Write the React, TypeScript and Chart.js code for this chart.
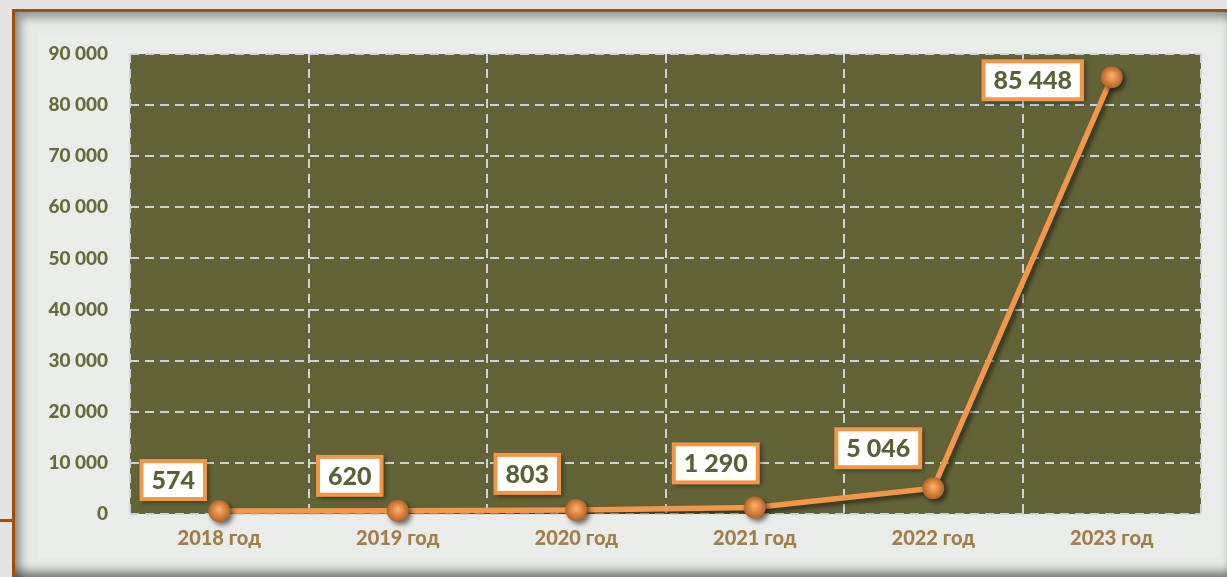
import React, { useEffect, useRef } from "react";
import { Chart, registerables } from "chart.js";

Chart.register(...registerables);

const categories = ["2018 год", "2019 год", "2020 год", "2021 год", "2022 год", "2023 год"];
const values = [574, 620, 803, 1290, 5046, 85448];
const yTicks = [0, 10000, 20000, 30000, 40000, 50000, 60000, 70000, 80000, 90000];

const ORANGE = "#f2964a";
const PLOT_BG = "#626438";
const GRID = "#ccd3dc";
const FONT = "Lato, 'Open Sans', sans-serif";

const fmt = (v: number) => String(Math.round(v)).replace(/\B(?=(\d{3})+(?!\d))/g, " ");

// label box centre offsets from each point (layout only)
const labelOffsets: [number, number][] = [
  [-46, -31],
  [-48, -35],
  [-49, -36],
  [-39, -44],
  [-55, -40],
  [-79, 3],
];

const plotBg = {
  id: "plotBg",
  beforeDraw(chart: any) {
    const { ctx, chartArea } = chart;
    ctx.save();
    ctx.fillStyle = PLOT_BG;
    ctx.fillRect(chartArea.left, chartArea.top, chartArea.right - chartArea.left, chartArea.bottom - chartArea.top);
    ctx.restore();
  },
};

const decor = {
  id: "decor",
  beforeDatasetsDraw(chart: any) {
    const ctx = chart.ctx;
    ctx.save();
    ctx.shadowColor = "rgba(0,0,0,0.55)";
    ctx.shadowBlur = 5;
    ctx.shadowOffsetX = 3;
    ctx.shadowOffsetY = 3;
  },
  afterDatasetsDraw(chart: any) {
    const ctx = chart.ctx;
    ctx.restore();
    const meta = chart.getDatasetMeta(0);
    const pts = meta.data;
    // markers
    pts.forEach((p: any) => {
      const x = p.x, y = p.y, r = 11;
      ctx.save();
      ctx.shadowColor = "rgba(0,0,0,0.55)";
      ctx.shadowBlur = 5;
      ctx.shadowOffsetX = 3;
      ctx.shadowOffsetY = 3;
      const g = ctx.createRadialGradient(x, y - 2, 0, x, y, r);
      g.addColorStop(0, "#f7b476");
      g.addColorStop(0.5, "#e08a44");
      g.addColorStop(1, "#b0642a");
      ctx.fillStyle = g;
      ctx.beginPath();
      ctx.arc(x, y, r, 0, Math.PI * 2);
      ctx.fill();
      ctx.restore();
    });
    // labels
    ctx.save();
    ctx.font = `900 25px ${FONT}`;
    ctx.textAlign = "center";
    ctx.textBaseline = "middle";
    pts.forEach((p: any, i: number) => {
      const txt = fmt(values[i]);
      const tw = ctx.measureText(txt).width;
      const w = tw + 16;
      const h = 34;
      const [dx, dy] = labelOffsets[i];
      const cx = p.x + dx, cy = p.y + dy;
      ctx.save();
      ctx.shadowColor = "rgba(0,0,0,0.45)";
      ctx.shadowBlur = 5;
      ctx.shadowOffsetX = 2;
      ctx.shadowOffsetY = 2;
      ctx.fillStyle = ORANGE;
      ctx.fillRect(cx - w / 2 - 4, cy - h / 2 - 4, w + 8, h + 8);
      ctx.restore();
      ctx.fillStyle = "#ffffff";
      ctx.fillRect(cx - w / 2, cy - h / 2, w, h);
      ctx.fillStyle = "#5a6137";
      ctx.fillText(txt, cx, cy + 1);
    });
    ctx.restore();
  },
};

function ChartCanvas() {
  const ref = useRef<HTMLCanvasElement | null>(null);
  useEffect(() => {
    if (!ref.current) return;
    const chart = new Chart(ref.current, {
      type: "line",
      data: {
        labels: categories,
        datasets: [
          {
            data: values,
            borderColor: ORANGE,
            borderWidth: 5.5,
            pointRadius: 0,
            tension: 0,
          },
        ],
      },
      options: {
        responsive: false,
        animation: false,
        events: [],
        layout: { padding: { left: 40, right: 26, top: 54, bottom: 0 } },
        plugins: { legend: { display: false }, tooltip: { enabled: false } },
        scales: {
          x: {
            offset: true,
            grid: { offset: true, color: GRID, lineWidth: 2, drawTicks: false },
            border: { display: false, dash: [9, 6] },
            ticks: { color: "#a07f47", padding: 13, font: { family: FONT, size: 20, weight: "900" } },
            afterFit: (s: any) => {
              s.height = 63;
            },
          },
          y: {
            min: 0,
            max: 90000,
            afterBuildTicks: (s: any) => {
              s.ticks = yTicks.map((v) => ({ value: v }));
            },
            grid: { color: GRID, lineWidth: 2, drawTicks: false },
            border: { display: false, dash: [9, 6] },
            ticks: {
              color: "#676b3a",
              padding: 22,
              font: { family: FONT, size: 19, weight: "900" },
              callback: (v: any) => fmt(Number(v)),
            },
            afterFit: (s: any) => {
              s.width = 90;
            },
          },
        },
      },
      plugins: [plotBg, decor],
    });
    return () => chart.destroy();
  }, []);
  return (
    <canvas
      ref={ref}
      width={1227}
      height={577}
      style={{ position: "absolute", left: 0, top: 0, width: 1227, height: 577 }}
    />
  );
}

export default function App() {
  return (
    <div
      style={{
        position: "fixed",
        left: 0,
        top: 0,
        width: 1227,
        height: 577,
        overflow: "hidden",
        background: "#e4e4e4",
      }}
    >
      <div
        style={{
          position: "absolute",
          left: 12,
          top: 9,
          width: 1240,
          height: 600,
          borderTop: "3px solid #9e4f10",
          borderLeft: "3px solid #9e4f10",
          boxSizing: "border-box",
        }}
      />
      <div
        style={{
          position: "absolute",
          left: 15,
          top: 12,
          width: 1212,
          height: 565,
          background: "#e6e9e6",
          boxShadow: "inset 6px 6px 8px rgba(0,0,0,0.35), inset 0 -10px 8px -4px rgba(0,0,0,0.45)",
        }}
      />
      <div
        style={{
          position: "absolute",
          left: 38,
          top: 33,
          width: 1182,
          height: 525,
          background: "#e9ece9",
        }}
      />
      <div
        style={{
          position: "absolute",
          left: 0,
          top: 519,
          width: 14,
          height: 3,
          background: "#9e4f10",
        }}
      />
      <ChartCanvas />
    </div>
  );
}
